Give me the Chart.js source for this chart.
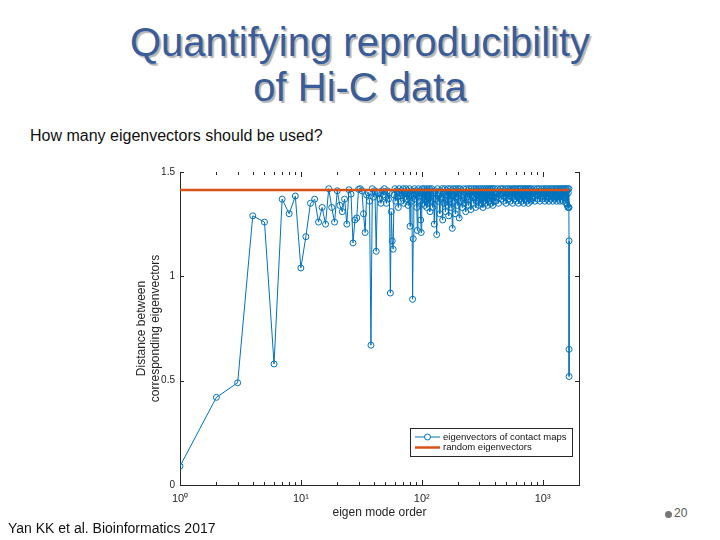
<!DOCTYPE html>
<html>
<head>
<meta charset="utf-8">
<script src="https://cdn.jsdelivr.net/npm/chart.js@4.4.1/dist/chart.umd.min.js"></script>
<style>
  body { margin: 0; width: 720px; height: 540px; background: #fff; position: relative; overflow: hidden;
         font-family: Arial, "Liberation Sans", sans-serif; }
  .title { position: absolute; left: 0; top: 20px; width: 720px; text-align: center; color: #3a5d99;
           font-size: 40px; line-height: 45px; text-shadow: 2px 2px 1px #b5b5b5; }
  .question { position: absolute; left: 30px; top: 127px; font-size: 16px; color: #111; }
  .cite { position: absolute; left: 8px; top: 520px; font-size: 14px; color: #111; }
  .page { position: absolute; left: 674px; top: 506px; font-size: 12px; color: #555; }
  .dot { position: absolute; left: 665px; top: 511px; width: 7px; height: 7px; border-radius: 50%; background: #777; }
  #wrap { position: absolute; left: 100px; top: 150px; width: 500px; height: 380px; }
</style>
</head>
<body>
<div class="title">Quantifying reproducibility<br>of Hi-C data</div>
<div class="question">How many eigenvectors should be used?</div>
<div id="wrap"><canvas id="chart"></canvas></div>
<div class="cite">Yan KK et al. Bioinformatics 2017</div>
<div class="dot"></div>
<div class="page">20</div>
<script>
// distance for eigen modes 1..120 (one value per mode)
const earlyDist = [
  0.09, 0.42, 0.49, 1.29, 1.26, 0.58, 1.37, 1.30, 1.385, 1.04,
  1.19, 1.35, 1.37, 1.26, 1.33, 1.25, 1.42, 1.33, 1.26, 1.41,
  1.34, 1.31, 1.37, 1.25, 1.415, 1.394, 1.16, 1.27, 1.28, 1.417,
  1.42, 1.41, 1.30, 1.21, 1.39, 1.40, 1.36, 0.67, 1.42, 1.38,
  1.41, 1.12, 1.40, 1.40, 1.37, 1.35, 1.41, 1.39, 1.42, 1.38,
  1.35, 1.41, 1.37, 1.40, 0.92, 1.31, 1.17, 1.13, 1.39, 1.42,
  1.36, 1.41, 1.38, 1.33, 1.42, 1.40, 1.36, 1.41, 1.39, 1.42,
  1.35, 1.40, 1.38, 1.42, 1.37, 1.41, 1.34, 1.40, 1.42, 1.24,
  1.39, 1.41, 1.36, 0.89, 1.18, 1.40, 1.42, 1.37, 1.41, 1.39,
  1.33, 1.22, 1.40, 1.42, 1.38, 1.41, 1.36, 1.27, 1.21, 1.40,
  1.42, 1.35, 1.41, 1.38, 1.42, 1.34, 1.40, 1.37, 1.41, 1.33,
  1.42, 1.39, 1.35, 1.41, 1.38, 1.42, 1.31, 1.40, 1.36, 1.41
];

// dense band beyond mode 120, read in four runs of evenly spaced modes
const bandStarts = [121, 201, 402, 804];
const bandSteps = [2, 3, 6, 12];
const band1Dist = [
  1.42, 1.33, 1.40, 1.25, 1.41, 1.37, 1.20, 1.42, 1.36, 1.39,
  1.30, 1.41, 1.38, 1.42, 1.27, 1.40, 1.35, 1.42, 1.31, 1.39,
  1.41, 1.34, 1.42, 1.29, 1.40, 1.37, 1.42, 1.33, 1.41, 1.23,
  1.39, 1.42, 1.36, 1.40, 1.30, 1.42, 1.38, 1.41, 1.34, 1.42
];
const band2Dist = [
  1.40, 1.28, 1.42, 1.36, 1.41, 1.33, 1.39, 1.42, 1.35, 1.40,
  1.31, 1.42, 1.38, 1.41, 1.34, 1.42, 1.37, 1.40, 1.32, 1.42,
  1.39, 1.41, 1.35, 1.42, 1.38, 1.40, 1.33, 1.42, 1.36, 1.41,
  1.39, 1.42, 1.34, 1.40, 1.37, 1.42, 1.35, 1.41, 1.38, 1.42,
  1.33, 1.40, 1.36, 1.42, 1.39, 1.41, 1.35, 1.42, 1.37, 1.40,
  1.34, 1.42, 1.38, 1.41, 1.36, 1.42, 1.39, 1.40, 1.35, 1.42,
  1.37, 1.41, 1.34, 1.42, 1.38, 1.40, 1.36
];
const band3Dist = [
  1.42, 1.36, 1.40, 1.38, 1.42, 1.35, 1.41, 1.39, 1.42, 1.37,
  1.40, 1.42, 1.36, 1.41, 1.38, 1.42, 1.35, 1.40, 1.39, 1.42,
  1.37, 1.41, 1.42, 1.36, 1.40, 1.38, 1.42, 1.35, 1.41, 1.39,
  1.42, 1.37, 1.40, 1.42, 1.36, 1.41, 1.38, 1.42, 1.35, 1.40,
  1.39, 1.42, 1.37, 1.41, 1.42, 1.36, 1.40, 1.38, 1.42, 1.35,
  1.41, 1.39, 1.42, 1.37, 1.40, 1.42, 1.36, 1.41, 1.38, 1.42,
  1.35, 1.40, 1.39, 1.42, 1.37, 1.41, 1.36
];
const band4Dist = [
  1.42, 1.37, 1.40, 1.38, 1.42, 1.36, 1.41, 1.39, 1.42, 1.37,
  1.40, 1.42, 1.36, 1.41, 1.38, 1.42, 1.37, 1.40, 1.39, 1.42,
  1.36, 1.41, 1.42, 1.37, 1.40, 1.38, 1.42, 1.36, 1.41, 1.39,
  1.42, 1.37, 1.40, 1.42, 1.36, 1.41, 1.38, 1.42, 1.37, 1.40,
  1.39, 1.42, 1.36, 1.41, 1.42, 1.37, 1.40, 1.38, 1.42, 1.36,
  1.41, 1.39, 1.42, 1.37, 1.40, 1.42, 1.36, 1.41, 1.38, 1.42,
  1.37, 1.40, 1.39, 1.42, 1.35, 1.41, 1.34, 1.42, 1.33, 1.40,
  1.33
];

// last modes, where the curve drops
const lastModes = [1650, 1652, 1654, 1655, 1656];
const lastDist = [1.42, 1.33, 1.17, 0.65, 0.52];

// random eigenvectors baseline (sqrt 2)
const randomModes = [1, 1656];
const randomDist = [1.414, 1.414];

const xTickLabels = { 1: '10⁰', 10: '10¹', 100: '10²', 1000: '10³' };
const legendLabels = ['eigenvectors of contact maps', 'random eigenvectors'];

const blue = '#0072BD';
const orange = '#D95319';

let contactPoints = earlyDist.map((v, i) => ({ x: i + 1, y: v }));
[band1Dist, band2Dist, band3Dist, band4Dist].forEach((arr, b) => {
  arr.forEach((v, i) => contactPoints.push({ x: bandStarts[b] + i * bandSteps[b], y: v }));
});
lastModes.forEach((m, i) => contactPoints.push({ x: m, y: lastDist[i] }));
const randomPoints = randomModes.map((m, i) => ({ x: m, y: randomDist[i] }));

// MATLAB-like box: inward ticks, right border, legend box
const axesDecor = {
  id: 'axesDecor',
  afterDraw(chart) {
    const { ctx, chartArea: a, scales } = chart;
    const xs = scales.x, ys = scales.y;
    ctx.save();
    ctx.strokeStyle = '#262626';
    ctx.lineWidth = 1;
    ctx.beginPath();
    ctx.moveTo(a.right + 0.5, a.top);
    ctx.lineTo(a.right + 0.5, a.bottom);
    for (let d = 1; d <= 1000; d *= 10) {
      for (let k = 1; k <= 9; k++) {
        const v = d * k;
        if (v > 2000) break;
        const px = Math.round(xs.getPixelForValue(v)) + 0.5;
        const len = k === 1 ? 5 : 3;
        ctx.moveTo(px, a.bottom);
        ctx.lineTo(px, a.bottom - len);
        ctx.moveTo(px, a.top);
        ctx.lineTo(px, a.top + len);
      }
    }
    [0, 0.5, 1, 1.5].forEach(v => {
      const py = Math.round(ys.getPixelForValue(v)) + 0.5;
      ctx.moveTo(a.left, py);
      ctx.lineTo(a.left + 4, py);
      ctx.moveTo(a.right, py);
      ctx.lineTo(a.right - 4, py);
    });
    ctx.stroke();

    // legend
    const lx = a.right - 169, ly = a.bottom - 57, lw = 162, lh = 28;
    ctx.fillStyle = '#fff';
    ctx.fillRect(lx, ly, lw, lh);
    ctx.strokeStyle = '#262626';
    ctx.strokeRect(lx + 0.5, ly + 0.5, lw, lh);
    const row1 = ly + 9, row2 = ly + 19.5;
    ctx.strokeStyle = blue;
    ctx.beginPath();
    ctx.moveTo(lx + 5, row1);
    ctx.lineTo(lx + 30, row1);
    ctx.stroke();
    ctx.beginPath();
    ctx.arc(lx + 17.5, row1, 3, 0, Math.PI * 2);
    ctx.fillStyle = '#fff';
    ctx.fill();
    ctx.stroke();
    ctx.strokeStyle = orange;
    ctx.lineWidth = 2.5;
    ctx.beginPath();
    ctx.moveTo(lx + 5, row2);
    ctx.lineTo(lx + 30, row2);
    ctx.stroke();
    ctx.fillStyle = '#111';
    ctx.font = '9.5px Arial, "Liberation Sans", sans-serif';
    ctx.textBaseline = 'middle';
    ctx.fillText(legendLabels[0], lx + 33, row1);
    ctx.fillText(legendLabels[1], lx + 33, row2);
    ctx.restore();
  }
};

new Chart(document.getElementById('chart'), {
  type: 'line',
  data: {
    datasets: [
      {
        label: legendLabels[0],
        data: contactPoints,
        borderColor: blue,
        borderWidth: 1,
        pointRadius: 3,
        pointBorderWidth: 1,
        pointBackgroundColor: 'rgba(0,0,0,0)',
        pointBorderColor: blue,
        tension: 0,
        order: 2
      },
      {
        label: legendLabels[1],
        data: randomPoints,
        borderColor: orange,
        borderWidth: 2.5,
        pointRadius: 0,
        order: 1
      }
    ]
  },
  options: {
    responsive: true,
    maintainAspectRatio: false,
    animation: false,
    layout: { padding: { left: 0, right: 21, top: 22, bottom: 0 } },
    plugins: {
      legend: { display: false },
      tooltip: { enabled: false }
    },
    scales: {
      x: {
        type: 'logarithmic',
        min: 1,
        max: 2000,
        grid: { display: false, drawTicks: false },
        border: { display: true, color: '#262626', width: 1 },
        afterFit: s => { s.height = 45; },
        ticks: {
          autoSkip: false,
          maxRotation: 0,
          padding: 7,
          color: '#262626',
          font: { family: 'Arial, "Liberation Sans", sans-serif', size: 11 },
          callback: v => xTickLabels[v] || ''
        },
        title: {
          display: true,
          text: 'eigen mode order',
          color: '#262626',
          font: { family: 'Arial, "Liberation Sans", sans-serif', size: 12 },
          padding: { top: 0, bottom: 10 }
        }
      },
      y: {
        min: 0,
        max: 1.5,
        grid: { display: false, drawTicks: false },
        border: { display: true, color: '#262626', width: 1 },
        afterFit: s => { s.width = 80; },
        ticks: {
          stepSize: 0.5,
          padding: 5,
          color: '#262626',
          font: { family: 'Arial, "Liberation Sans", sans-serif', size: 10 },
          callback: v => String(v)
        },
        title: {
          display: true,
          text: ['Distance between', 'corresponding eigenvectors'],
          color: '#262626',
          font: { family: 'Arial, "Liberation Sans", sans-serif', size: 12 },
          padding: { top: 34, bottom: 0 }
        }
      }
    }
  },
  plugins: [axesDecor]
});
</script>
</body>
</html>
